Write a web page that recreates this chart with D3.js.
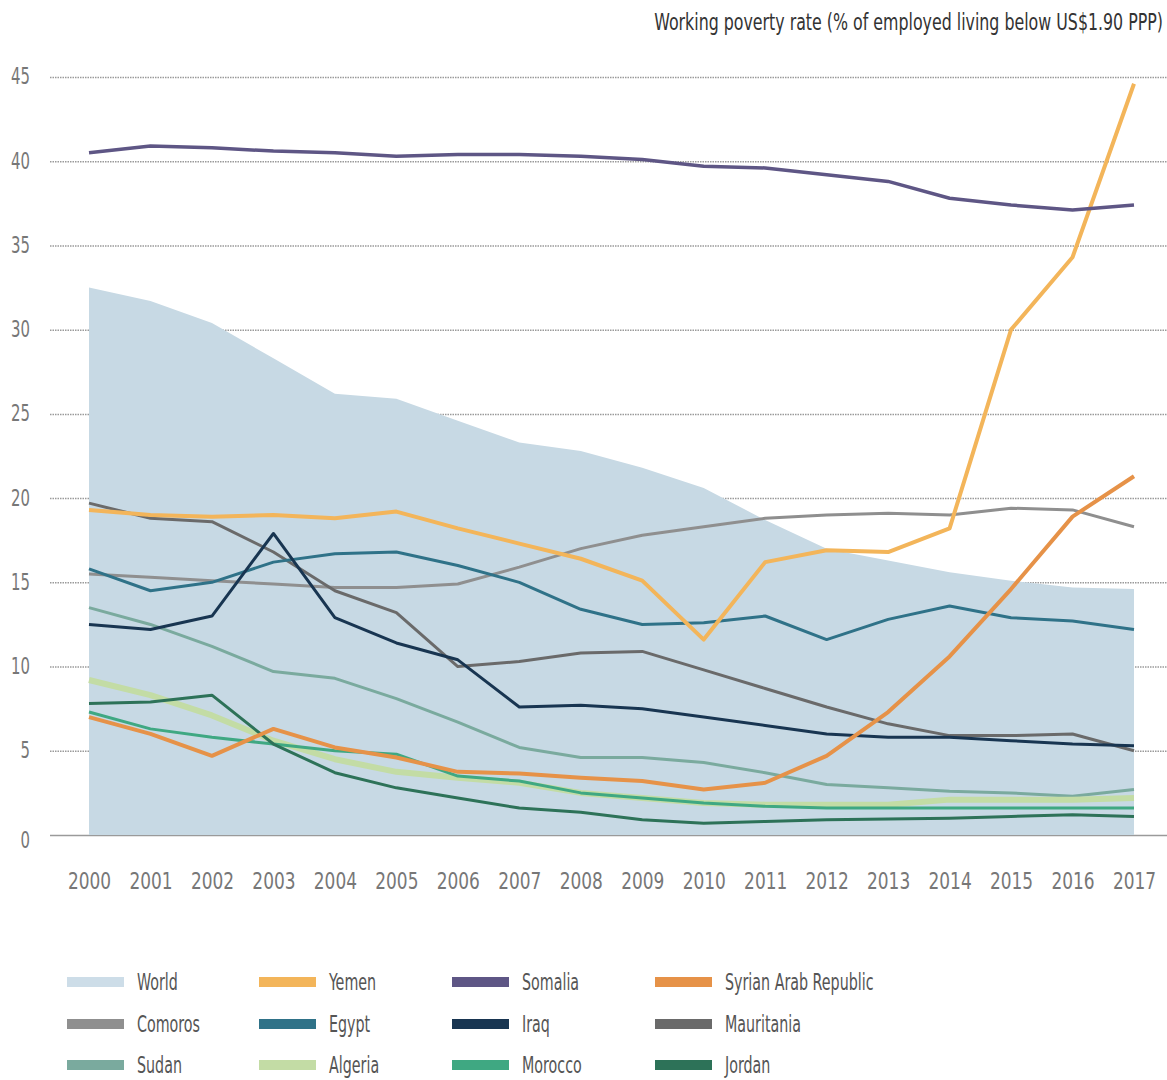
<!DOCTYPE html>
<html>
<head>
<meta charset="utf-8">
<script src="https://cdn.jsdelivr.net/npm/d3@7"></script>
<style>
  body { margin: 0; background: #fff; }
  svg text { font-family: "DejaVu Sans Condensed", "Liberation Sans Narrow", sans-serif; }
</style>
</head>
<body>
<div id="chart"></div>
<script>
const years = d3.range(2000, 2018);
const yTicks = [0, 5, 10, 15, 20, 25, 30, 35, 40, 45];

const world      = [32.5, 31.7, 30.4, 28.3, 26.2, 25.9, 24.6, 23.3, 22.8, 21.8, 20.6, 18.7, 17.0, 16.3, 15.6, 15.1, 14.7, 14.6];
const yemen      = [19.3, 19.0, 18.9, 19.0, 18.8, 19.2, 18.2, 17.3, 16.4, 15.1, 11.6, 16.2, 16.9, 16.8, 18.2, 30.0, 34.3, 44.6];
const somalia    = [40.5, 40.9, 40.8, 40.6, 40.5, 40.3, 40.4, 40.4, 40.3, 40.1, 39.7, 39.6, 39.2, 38.8, 37.8, 37.4, 37.1, 37.4];
const syria      = [7.0, 6.0, 4.7, 6.3, 5.2, 4.6, 3.75, 3.65, 3.4, 3.2, 2.7, 3.1, 4.7, 7.3, 10.6, 14.6, 18.9, 21.3];
const comoros    = [15.5, 15.3, 15.1, 14.9, 14.7, 14.7, 14.9, 15.9, 17.0, 17.8, 18.3, 18.8, 19.0, 19.1, 19.0, 19.4, 19.3, 18.3];
const egypt      = [15.8, 14.5, 15.0, 16.2, 16.7, 16.8, 16.0, 15.0, 13.4, 12.5, 12.6, 13.0, 11.6, 12.8, 13.6, 12.9, 12.7, 12.2];
const iraq       = [12.5, 12.2, 13.0, 17.9, 12.9, 11.4, 10.4, 7.6, 7.7, 7.5, 7.0, 6.5, 6.0, 5.8, 5.8, 5.6, 5.4, 5.3];
const mauritania = [19.7, 18.8, 18.6, 16.8, 14.5, 13.2, 10.0, 10.3, 10.8, 10.9, 9.8, 8.7, 7.6, 6.6, 5.9, 5.9, 6.0, 5.0];
const sudan      = [13.5, 12.5, 11.2, 9.7, 9.3, 8.1, 6.7, 5.2, 4.6, 4.6, 4.3, 3.7, 3.0, 2.8, 2.6, 2.5, 2.3, 2.7];
const algeria    = [9.2, 8.3, 7.1, 5.6, 4.5, 3.75, 3.4, 3.1, 2.5, 2.2, 1.9, 1.8, 1.8, 1.8, 2.1, 2.1, 2.1, 2.2];
const morocco    = [7.3, 6.3, 5.8, 5.4, 5.0, 4.8, 3.5, 3.2, 2.5, 2.2, 1.9, 1.7, 1.6, 1.6, 1.6, 1.6, 1.6, 1.6];
const jordan     = [7.8, 7.9, 8.3, 5.4, 3.7, 2.8, 2.2, 1.6, 1.35, 0.9, 0.7, 0.8, 0.9, 0.95, 1.0, 1.1, 1.2, 1.1];

// drawing order (bottom to top)
const series = [
  {name: "Comoros", values: comoros, color: "#8f8f8f", w: 3},
  {name: "Sudan", values: sudan, color: "#7aaa9e", w: 3},
  {name: "Mauritania", values: mauritania, color: "#6a6a6a", w: 3},
  {name: "Egypt", values: egypt, color: "#2f7288", w: 3},
  {name: "Iraq", values: iraq, color: "#183551", w: 3},
  {name: "Algeria", values: algeria, color: "#c3dca5", w: 6},
  {name: "Morocco", values: morocco, color: "#3fa882", w: 3},
  {name: "Jordan", values: jordan, color: "#2d7258", w: 3},
  {name: "Syrian Arab Republic", values: syria, color: "#e69248", w: 4},
  {name: "Yemen", values: yemen, color: "#f3b55a", w: 4},
  {name: "Somalia", values: somalia, color: "#5e5685", w: 3.5}
];

const legendRows = [
  ["World", "Yemen", "Somalia", "Syrian Arab Republic"],
  ["Comoros", "Egypt", "Iraq", "Mauritania"],
  ["Sudan", "Algeria", "Morocco", "Jordan"]
];

const worldColor = "#c7d9e4";
const colorOf = name => name === "World" ? "#cddde8" : series.find(s => s.name === name).color;

const svg = d3.select("#chart").append("svg")
    .attr("width", 1167)
    .attr("height", 1080);

const x = d3.scaleLinear().domain([2000, 2017]).range([89, 1134]);
const y = d3.scaleLinear().domain([0, 45]).range([835, 77]);

// gridlines + y labels
const yAxis = svg.append("g")
    .attr("transform", "translate(50,0)")
    .call(d3.axisLeft(y).tickValues(yTicks).tickSize(-1117).tickPadding(20));
yAxis.select(".domain").remove();
yAxis.selectAll(".tick line")
    .attr("stroke", "#9a9a9a")
    .attr("stroke-width", 1.5)
    .attr("stroke-dasharray", d => d === 0 ? null : "1.5,1");
yAxis.selectAll(".tick text")
    .attr("x", 0)
    .attr("transform", "translate(-20,0) scale(0.72,1)")
    .attr("fill", "#777")
    .attr("font-size", 23)
    .attr("dy", d => d === 0 ? "0.55em" : "0.3em");

// world area
svg.append("path")
    .datum(world)
    .attr("fill", worldColor)
    .attr("d", d3.area()
        .x((d, i) => x(years[i]))
        .y0(y(0))
        .y1(d => y(d)));

// x axis labels
const xAxis = svg.append("g")
    .attr("transform", "translate(0,835)")
    .call(d3.axisBottom(x).tickValues(years).tickFormat(d3.format("d")).tickSize(0).tickPadding(38));
xAxis.select(".domain").remove();
xAxis.selectAll(".tick text")
    .attr("transform", "scale(0.82,1)")
    .attr("fill", "#777")
    .attr("font-size", 23);

// country lines
const line = d3.line()
    .x((d, i) => x(years[i]))
    .y(d => y(d));

svg.selectAll("path.country")
    .data(series)
    .join("path")
    .attr("class", "country")
    .attr("fill", "none")
    .attr("stroke", d => d.color)
    .attr("stroke-width", d => d.w)
    .attr("stroke-linejoin", "round")
    .attr("d", d => line(d.values));

// title
svg.append("text")
    .attr("transform", "translate(1163,30) scale(0.765,1)")
    .attr("text-anchor", "end")
    .attr("font-size", 23)
    .attr("fill", "#333")
    .text("Working poverty rate (% of employed living below US$1.90 PPP)");

// legend
const colX = [67, 259, 452, 655];
const rowY = [982, 1024, 1065];
legendRows.forEach((row, r) => {
  row.forEach((name, c) => {
    const g = svg.append("g").attr("transform", `translate(${colX[c]},${rowY[r]})`);
    g.append("rect")
        .attr("x", 0).attr("y", -5)
        .attr("width", 57).attr("height", 10)
        .attr("fill", colorOf(name));
    g.append("text")
        .attr("transform", "translate(70,0) scale(0.69,1)")
        .attr("dy", "0.35em")
        .attr("font-size", 23)
        .attr("fill", "#555")
        .text(name);
  });
});
</script>
</body>
</html>
